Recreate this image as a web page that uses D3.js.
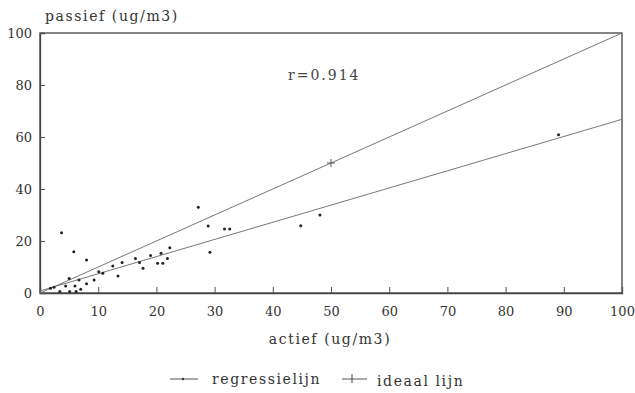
<!DOCTYPE html>
<html><head><meta charset="utf-8">
<script src="https://cdn.jsdelivr.net/npm/d3@7"></script>
<style>body{margin:0;background:#fff}</style>
</head><body>
<svg id="c" width="635" height="393"></svg>
<script>
const actief  = [3.7,5.8,8.0,27.2,28.9,29.2,31.7,32.6,44.8,48.1,89.1,10.1,10.8,9.3,8.0,5.0,6.7,4.4,6.0,3.4,5.1,6.2,7.0,2.4,1.8,12.5,14.1,13.4,16.4,17.1,17.7,19.0,20.2,21.1,20.8,21.9,22.3];
const passief = [23.2,15.9,12.7,33.0,25.8,15.7,24.6,24.6,25.9,30.0,60.9,8.2,7.6,5.0,3.6,5.6,5.0,2.7,2.7,0.6,0.6,0.6,1.4,2.2,1.8,10.4,11.7,6.5,13.3,11.7,9.5,14.4,11.4,11.4,15.3,13.3,17.4];
const xTicks = [0,10,20,30,40,50,60,70,80,90,100];
const yTicks = [0,20,40,60,80,100];
const regression = {intercept: 0.8, slope: 0.66};
const idealLine = [[0,0],[100,100]];
const rText = "r=0.914";
const legendItems = ["regressielijn","ideaal lijn"];

const svg = d3.select("#c");
const font = "'DejaVu Serif', serif";
const x = d3.scaleLinear().domain([0,100]).range([40,622]);
const y = d3.scaleLinear().domain([0,100]).range([293,33]);

// frame
svg.append("rect").attr("x",x(0)).attr("y",y(100)).attr("width",x(100)-x(0)).attr("height",y(0)-y(100))
  .attr("fill","none").attr("stroke","#444").attr("stroke-width",1.3);

const xa = svg.append("g").attr("transform",`translate(0,${y(0)})`)
  .call(d3.axisBottom(x).tickValues(xTicks).tickSize(-6).tickPadding(14).tickFormat(d3.format("d")));
const ya = svg.append("g").attr("transform",`translate(${x(0)},0)`)
  .call(d3.axisLeft(y).tickValues(yTicks).tickSize(-5).tickPadding(8).tickFormat(d3.format("d")));
[xa,ya].forEach(g=>{
  g.select(".domain").attr("stroke","#444").attr("stroke-width",1.3);
  g.selectAll(".tick line").attr("stroke","#555");
  g.selectAll("text").attr("font-family",font).attr("font-size",13).attr("fill","#333");
});

// lines
const line = d3.line().x(d=>x(d[0])).y(d=>y(d[1]));
const regPts = [0,100].map(v=>[v, regression.intercept + regression.slope*v]);
svg.append("path").attr("d",line(regPts)).attr("fill","none").attr("stroke","#777").attr("stroke-width",1);
svg.append("path").attr("d",line(idealLine)).attr("fill","none").attr("stroke","#777").attr("stroke-width",1);
// + marker on ideal line
svg.append("path").attr("d",`M${x(50)-4},${y(50)}h8M${x(50)},${y(50)-4}v8`).attr("stroke","#555").attr("stroke-width",1);

// points
svg.append("g").selectAll("circle").data(actief.map((a,i)=>[a,passief[i]])).join("circle")
  .attr("cx",d=>x(d[0])).attr("cy",d=>y(d[1])).attr("r",1.5).attr("fill","#222");

// texts
svg.append("text").attr("x",288).attr("y",80).text(rText).attr("font-family",font).attr("font-size",14).attr("letter-spacing",2).attr("fill","#444");
svg.append("text").attr("x",45).attr("y",21).text("passief (ug/m3)").attr("font-family",font).attr("font-size",14).attr("letter-spacing",1.6).attr("fill","#333");
svg.append("text").attr("x",330).attr("y",344).attr("text-anchor","middle").text("actief (ug/m3)").attr("font-family",font).attr("font-size",14).attr("letter-spacing",1.6).attr("fill","#333");

// legend
const lg = svg.append("g").attr("font-family",font).attr("font-size",14).attr("letter-spacing",1.6).attr("fill","#333");
lg.append("line").attr("x1",170).attr("x2",198).attr("y1",379).attr("y2",379).attr("stroke","#555");
lg.append("circle").attr("cx",183).attr("cy",379).attr("r",1.2).attr("fill","#333");
lg.append("text").attr("x",212).attr("y",384).text(legendItems[0]);
lg.append("line").attr("x1",342).attr("x2",367).attr("y1",379).attr("y2",379).attr("stroke","#555");
lg.append("path").attr("d","M352,374v9").attr("stroke","#444");
lg.append("text").attr("x",377).attr("y",386).text(legendItems[1]);
</script>
</body></html>
